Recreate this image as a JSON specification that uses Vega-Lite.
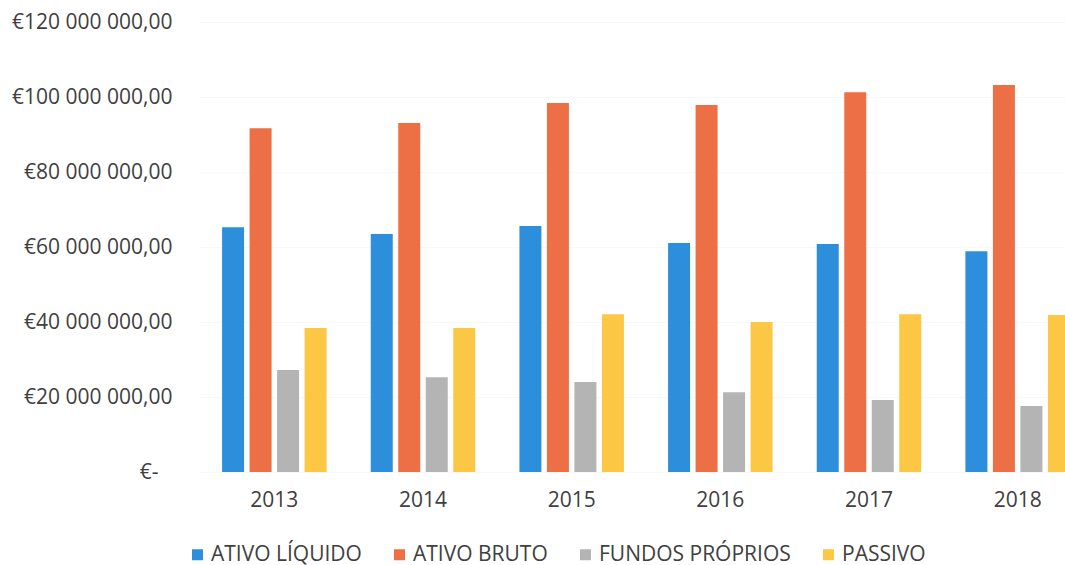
{
  "$schema": "https://vega.github.io/schema/vega-lite/v6.json",
  "width": 865,
  "height": 450,
  "autosize": {"type": "none"},
  "padding": {"left": 200, "top": 22, "right": 0, "bottom": 93},
  "background": "white",
  "data": {
    "values": [
      {"ano": "2013", "serie": "ATIVO LÍQUIDO", "valor": 65300000},
      {"ano": "2013", "serie": "ATIVO BRUTO", "valor": 91700000},
      {"ano": "2013", "serie": "FUNDOS PRÓPRIOS", "valor": 27200000},
      {"ano": "2013", "serie": "PASSIVO", "valor": 38400000},
      {"ano": "2014", "serie": "ATIVO LÍQUIDO", "valor": 63500000},
      {"ano": "2014", "serie": "ATIVO BRUTO", "valor": 93100000},
      {"ano": "2014", "serie": "FUNDOS PRÓPRIOS", "valor": 25300000},
      {"ano": "2014", "serie": "PASSIVO", "valor": 38400000},
      {"ano": "2015", "serie": "ATIVO LÍQUIDO", "valor": 65600000},
      {"ano": "2015", "serie": "ATIVO BRUTO", "valor": 98400000},
      {"ano": "2015", "serie": "FUNDOS PRÓPRIOS", "valor": 24000000},
      {"ano": "2015", "serie": "PASSIVO", "valor": 42100000},
      {"ano": "2016", "serie": "ATIVO LÍQUIDO", "valor": 61100000},
      {"ano": "2016", "serie": "ATIVO BRUTO", "valor": 97900000},
      {"ano": "2016", "serie": "FUNDOS PRÓPRIOS", "valor": 21300000},
      {"ano": "2016", "serie": "PASSIVO", "valor": 40000000},
      {"ano": "2017", "serie": "ATIVO LÍQUIDO", "valor": 60800000},
      {"ano": "2017", "serie": "ATIVO BRUTO", "valor": 101300000},
      {"ano": "2017", "serie": "FUNDOS PRÓPRIOS", "valor": 19200000},
      {"ano": "2017", "serie": "PASSIVO", "valor": 42100000},
      {"ano": "2018", "serie": "ATIVO LÍQUIDO", "valor": 58900000},
      {"ano": "2018", "serie": "ATIVO BRUTO", "valor": 103200000},
      {"ano": "2018", "serie": "FUNDOS PRÓPRIOS", "valor": 17600000},
      {"ano": "2018", "serie": "PASSIVO", "valor": 41900000}
    ]
  },
  "mark": {"type": "bar"},
  "encoding": {
    "x": {
      "field": "ano",
      "type": "nominal",
      "scale": {"range": [0, 892], "paddingInner": 0.26, "paddingOuter": 0.13},
      "axis": {
        "title": null,
        "labelAngle": 0,
        "ticks": false,
        "domain": false,
        "labelPadding": 17,
        "labelFontSize": 21,
        "labelFont": "Open Sans",
        "labelColor": "#404040"
      }
    },
    "xOffset": {
      "field": "serie",
      "type": "nominal",
      "sort": ["ATIVO LÍQUIDO", "ATIVO BRUTO", "FUNDOS PRÓPRIOS", "PASSIVO"],
      "scale": {"paddingInner": 0.2, "paddingOuter": 0.1}
    },
    "y": {
      "field": "valor",
      "type": "quantitative",
      "scale": {"domain": [0, 120000000]},
      "axis": {
        "title": null,
        "values": [0, 20000000, 40000000, 60000000, 80000000, 100000000, 120000000],
        "labelExpr": "datum.value == 0 ? '€-' : '€' + replace(replace(format(datum.value, ',.2f'), regexp(',', 'g'), ' '), '.', ',')",
        "ticks": false,
        "domain": false,
        "labelPadding": {"condition": {"test": "datum.value == 0", "value": 42}, "value": 28},
        "labelFontSize": 21,
        "labelFont": "Open Sans",
        "labelColor": "#404040",
        "grid": true,
        "gridColor": "#f8f8f8"
      }
    },
    "color": {
      "field": "serie",
      "type": "nominal",
      "scale": {
        "domain": ["ATIVO LÍQUIDO", "ATIVO BRUTO", "FUNDOS PRÓPRIOS", "PASSIVO"],
        "range": ["#2d8fdb", "#ec6f45", "#b4b4b4", "#fdc746"]
      },
      "legend": {
        "orient": "none",
        "legendX": -13,
        "legendY": 522,
        "direction": "horizontal",
        "title": null,
        "symbolType": "square",
        "symbolSize": 121,
        "symbolStrokeWidth": 0,
        "labelOffset": 3,
        "labelFontSize": 21,
        "labelLimit": 400,
        "labelFont": "Open Sans",
        "labelColor": "#404040",
        "columnPadding": 27
      }
    }
  },
  "config": {"view": {"stroke": null}}
}
